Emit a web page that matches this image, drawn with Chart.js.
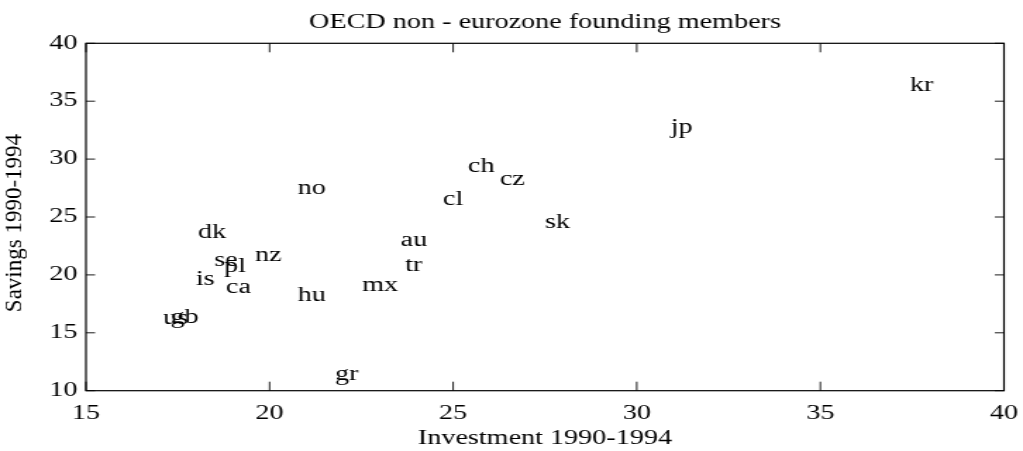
<!DOCTYPE html>
<html>
<head>
<meta charset="utf-8">
<script src="https://cdn.jsdelivr.net/npm/chart.js@4.4.1/dist/chart.umd.min.js"></script>
<style>
  html, body { margin: 0; padding: 0; background: #fff; overflow: hidden; }
  #wrap { width: 726px; height: 451px; transform: scaleX(1.40909); transform-origin: 0 0; }
</style>
</head>
<body>
<div id="wrap"><canvas id="c" width="726" height="451"></canvas></div>
<script>
// ---- data ----
const countries = ['kr','jp','ch','cz','cl','sk','no','au','tr','mx','hu','gr','dk','se','pl','nz','is','ca','us','gb'];
const investment = [37.44, 30.92, 25.4, 26.27, 24.72, 27.5, 20.77, 23.57, 23.69, 22.52, 20.77, 21.78, 18.05, 18.49, 18.76, 19.6, 17.99, 18.81, 17.1, 17.3];
const savings = [36.32, 32.72, 29.35, 28.2, 26.53, 24.52, 27.48, 22.96, 20.78, 19.05, 18.19, 11.36, 23.65, 21.24, 20.72, 21.64, 19.62, 18.85, 16.2, 16.3];
const xTicks = [15, 20, 25, 30, 35, 40];
const yTicks = [10, 15, 20, 25, 30, 35, 40];
const titleText = 'OECD non - eurozone founding members';
const xLabel = 'Investment 1990-1994';
const yLabel = 'Savings 1990-1994';

const SX = 1023 / 726;
const FONT = "'Liberation Serif', 'Times New Roman', serif";

const decor = {
  id: 'decor',
  afterDraw(chart) {
    const ctx = chart.ctx;
    const a = chart.chartArea;
    const xs = chart.scales.x, ys = chart.scales.y;
    ctx.save();
    ctx.strokeStyle = '#000';
    ctx.lineWidth = 1.2;
    ctx.strokeRect(a.left, a.top, a.right - a.left, a.bottom - a.top);
    ctx.lineWidth = 0.9;
    ctx.beginPath();
    xTicks.forEach(v => {
      const px = xs.getPixelForValue(v);
      ctx.moveTo(px, a.bottom); ctx.lineTo(px, a.bottom - 9);
      ctx.moveTo(px, a.top); ctx.lineTo(px, a.top + 9);
    });
    yTicks.forEach(v => {
      const py = ys.getPixelForValue(v);
      ctx.moveTo(a.left, py); ctx.lineTo(a.left + 9.2 / SX, py);
      ctx.moveTo(a.right, py); ctx.lineTo(a.right - 9.2 / SX, py);
    });
    ctx.stroke();

    ctx.fillStyle = '#000';

    // chart title, centred over the plot area
    ctx.font = '20px ' + FONT;
    ctx.textAlign = 'center';
    ctx.textBaseline = 'middle';
    ctx.fillText(titleText, (a.left + a.right) / 2, 22.5);

    // point labels
    ctx.textAlign = 'left';
    const meta = chart.getDatasetMeta(0);
    meta.data.forEach((el, i) => {
      ctx.fillText(countries[i], el.x, el.y);
    });

    // y-axis title (not horizontally stretched)
    ctx.save();
    ctx.translate(11, 223);
    ctx.scale(1 / SX, 1);
    ctx.rotate(-Math.PI / 2);
    ctx.font = '23px ' + FONT;
    ctx.textAlign = 'center';
    ctx.textBaseline = 'middle';
    ctx.fillText(yLabel, 0, 0);
    ctx.restore();
    ctx.restore();
  }
};

new Chart(document.getElementById('c'), {
  type: 'scatter',
  data: {
    datasets: [{
      data: investment.map((x, i) => ({ x: x, y: savings[i] })),
      pointRadius: 0,
      pointHoverRadius: 0,
      showLine: false
    }]
  },
  options: {
    responsive: false,
    animation: false,
    events: [],
    layout: { padding: { left: 0, right: 13.5, top: 43.3, bottom: 0 } },
    plugins: {
      legend: { display: false },
      tooltip: { enabled: false },
      title: { display: false }
    },
    scales: {
      x: {
        type: 'linear',
        min: 15, max: 40,
        afterBuildTicks: s => { s.ticks = xTicks.map(v => ({ value: v })); },
        ticks: { color: '#000', font: { family: FONT, size: 20 }, padding: 11, maxRotation: 0 },
        grid: { display: false, drawTicks: false },
        border: { display: false },
        title: { display: true, text: xLabel, color: '#000', font: { family: FONT, size: 20 }, padding: { top: 0, bottom: 0 } },
        afterFit: s => { s.height = 60.3; s.paddingLeft = 0; s.paddingRight = 0; }
      },
      y: {
        type: 'linear',
        min: 10, max: 40,
        afterBuildTicks: s => { s.ticks = yTicks.map(v => ({ value: v })); },
        ticks: { color: '#000', font: { family: FONT, size: 20 }, padding: 6 },
        grid: { display: false, drawTicks: false },
        border: { display: false },
        afterFit: s => { s.width = 61; s.paddingTop = 0; s.paddingBottom = 0; }
      }
    }
  },
  plugins: [decor]
});
</script>
</body>
</html>
